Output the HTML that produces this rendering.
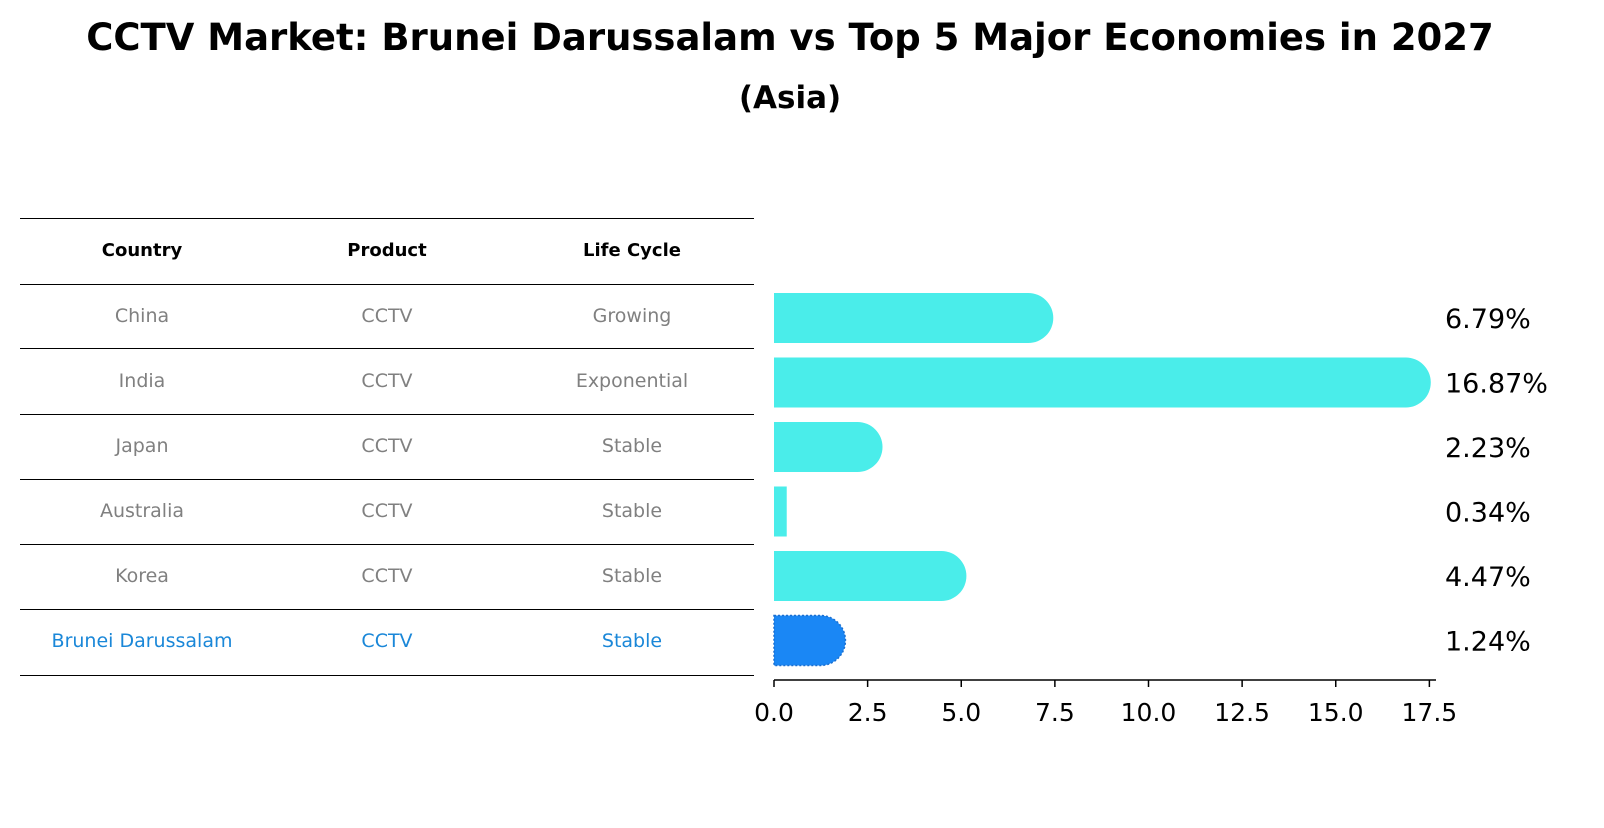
<!DOCTYPE html>
<html><head><meta charset="utf-8"><style>
body{margin:0;background:#fff;font-family:"Liberation Sans","DejaVu Sans",sans-serif}
</style></head><body>
<svg width="1604" height="823" viewBox="0 0 1604 823" xmlns="http://www.w3.org/2000/svg" font-family="'DejaVu Sans','Liberation Sans',sans-serif">
<text x="790" y="50" text-anchor="middle" font-size="37" font-weight="bold">CCTV Market: Brunei Darussalam vs Top 5 Major Economies in 2027</text>
<text x="790" y="108" text-anchor="middle" font-size="31" font-weight="bold">(Asia)</text>
<g id="table"></g>
<g id="bars"></g>
</svg>
<script>
const countries=["China","India","Japan","Australia","Korea","Brunei Darussalam"];
const products=["CCTV","CCTV","CCTV","CCTV","CCTV","CCTV"];
const lifeCycles=["Growing","Exponential","Stable","Stable","Stable","Stable"];
const values=[6.79,16.87,2.23,0.34,4.47,1.24];
const valueLabels=["6.79%","16.87%","2.23%","0.34%","4.47%","1.24%"];
const ticks=[0,2.5,5,7.5,10,12.5,15,17.5];
const tickLabels=["0.0","2.5","5.0","7.5","10.0","12.5","15.0","17.5"];
const NS="http://www.w3.org/2000/svg";
function mk(t,a,p){const e=document.createElementNS(NS,t);for(const k in a)e.setAttribute(k,a[k]);p.appendChild(e);return e;}
const tbl=document.getElementById('table'), bars=document.getElementById('bars');
const x0=774, pxPer=37.45;
function X(v){return x0+v*pxPer;}
const lineYs=[218,284,348,414,479,544,609,675];
lineYs.forEach(y=>{const l=mk('line',{x1:20,x2:754,y1:y+0.5,y2:y+0.5,stroke:'#000','stroke-width':1},tbl);

});
const colX=[142,387,632];
["Country","Product","Life Cycle"].forEach((h,i)=>{const t=mk('text',{x:colX[i],y:256,'text-anchor':'middle','font-size':18,'font-weight':'bold'},tbl);t.textContent=h;

});
function rowY(i){return 318+i*65;}
countries.forEach((c,i)=>{
 const col=i===countries.length-1?'#1a87d8':'#808080';
 [c,products[i],lifeCycles[i]].forEach((s,j)=>{const t=mk('text',{x:colX[j],y:rowY(i)+4,'text-anchor':'middle','font-size':19,fill:col},tbl);t.textContent=s;
 
 });
 const cy=318+i*64.5, h=50, w=X(values[i])-x0, r=h/2;
 const fill=i===countries.length-1?'#1a87f5':'#4aedea';
 let d;
 if(values[i]<0.6){d=`M${x0},${cy-r}h${w}v${h}h${-w}z`;}
 else d=`M${x0},${cy-r}h${w}a${r},${r} 0 0 1 0,${h}h${-w}z`;
 const p=mk('path',{d:d,fill:fill},bars);
 if(i===countries.length-1){p.setAttribute('stroke','#1a6fd0');p.setAttribute('stroke-dasharray','2,2');p.setAttribute('stroke-width','1.5');}
 
 
 const vl=mk('text',{x:1445,y:cy+10,'font-size':27},bars);vl.textContent=valueLabels[i];
 
 
});
const ax=mk('line',{x1:x0,x2:1436,y1:680,y2:680,stroke:'#000','stroke-width':1.5},bars);


ticks.forEach((t,i)=>{const tk=mk('line',{x1:X(t),x2:X(t),y1:680,y2:687,stroke:'#000','stroke-width':1.5},bars);


const tl=mk('text',{x:X(t),y:721,'text-anchor':'middle','font-size':25},bars);tl.textContent=tickLabels[i];

});
</script>
</body></html>
